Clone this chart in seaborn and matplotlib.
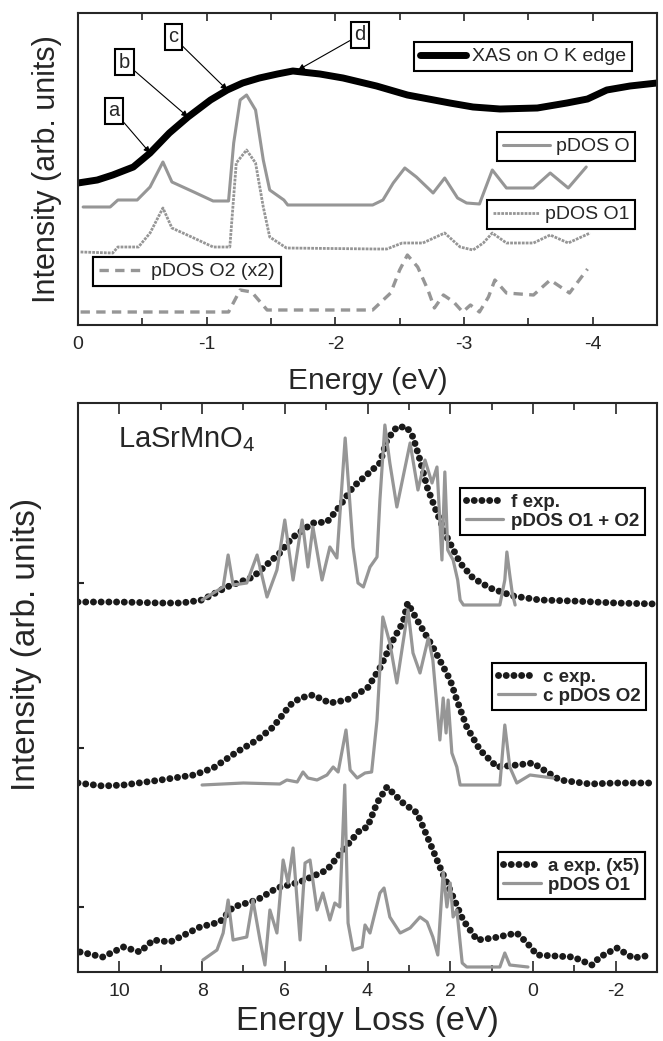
import matplotlib
matplotlib.use('Agg')
import matplotlib.pyplot as plt
import seaborn as sns
from matplotlib.ticker import MultipleLocator

# --- Styling ---
sns.set_style("ticks")
plt.rcParams['font.family'] = ['Liberation Sans', 'DejaVu Sans']
plt.rcParams['mathtext.fontset'] = 'custom'
plt.rcParams['mathtext.rm'] = 'Liberation Sans'
plt.rcParams['mathtext.it'] = 'Liberation Sans:italic'
plt.rcParams['axes.unicode_minus'] = False

GRAY = '#969696'

# ---------------- top panel: XAS + pDOS (energy in eV) ----------------
xas_e = [0, -0.15, -0.27, -0.43, -0.56, -0.71, -0.855, -1.03, -1.16, -1.28, -1.41, -1.55,
         -1.67, -1.88, -2.06, -2.32, -2.56, -2.89, -3.07, -3.28, -3.57, -3.8, -3.96, -4.11, -4.29, -4.5]
xas_i = [142, 145, 150, 158, 172, 192, 208, 225, 235, 242, 247, 251,
         254, 251, 247, 239, 230, 222, 218, 216, 217, 222, 226, 235, 239, 242]

pdos_o_e = [-0.04, -0.25, -0.31, -0.46, -0.56, -0.66, -0.73, -0.9, -1.05, -1.17, -1.21, -1.26,
            -1.31, -1.38, -1.44, -1.49, -1.6, -1.63, -2.29, -2.37, -2.45, -2.54, -2.63, -2.76,
            -2.85, -2.95, -3.02, -3.12, -3.22, -3.33, -3.54, -3.67, -3.81, -3.95]
pdos_o_i = [118, 118, 125, 125, 138, 163, 143, 133, 124, 124, 182, 225,
            230, 215, 165, 135, 125, 120, 120, 125, 142, 157, 148, 132,
            147, 127, 122, 121, 155, 137, 137, 152, 137, 158]

pdos_o1_e = [-0.02, -0.27, -0.31, -0.47, -0.56, -0.66, -0.73, -0.9, -1.05, -1.18, -1.23, -1.31,
             -1.38, -1.44, -1.49, -1.62, -2.32, -2.4, -2.52, -2.68, -2.85, -2.97, -3.07, -3.15,
             -3.22, -3.33, -3.54, -3.67, -3.81, -3.98]
pdos_o1_i = [73, 72, 78, 78, 92, 117, 97, 87, 78, 78, 162, 175,
             162, 118, 88, 77, 76, 76, 82, 82, 92, 78, 75, 82,
             92, 82, 82, 90, 82, 92]

pdos_o2_e = [-0.02, -1.17, -1.26, -1.35, -1.47, -2.29, -2.43, -2.5, -2.56, -2.64, -2.72, -2.77,
             -2.84, -2.92, -2.99, -3.05, -3.12, -3.19, -3.24, -3.33, -3.54, -3.67, -3.82, -3.96]
pdos_o2_i = [13, 13, 35, 33, 15, 15, 32, 55, 70, 58, 35, 17,
             30, 23, 13, 20, 13, 28, 45, 32, 30, 45, 32, 56]

# arrows: label, box position, arrow head (on XAS curve)
marks = ['a', 'b', 'c', 'd']
mark_box_e = [-0.28, -0.36, -0.74, -2.19]
mark_box_i = [214, 263, 288, 290]
mark_head_e = [-0.56, -0.855, -1.16, -1.71]
mark_head_i = [172, 208, 235, 255]

# ---------------- bottom panel: RIXS vs pDOS (energy loss in eV) ----------------
f_exp_e = [11, 10, 9, 8.5, 8, 7.4, 6.77, 6.12, 5.83, 5.32, 4.98, 4.74, 4.35, 3.94, 3.7, 3.53,
           3.29, 3.05, 2.9, 2.73, 2.56, 2.32, 2.08, 1.76, 1.45, 1.04, 0.48, -0.17, -0.97, -2, -3]
f_exp_i = [370, 370, 369, 369, 372, 385, 395, 419, 434, 449, 450, 462, 485, 500, 509, 532,
           545, 545, 535, 512, 485, 459, 435, 409, 394, 384, 376, 372, 371, 369, 368]

f_dos_e = [8.0, 7.49, 7.37, 7.25, 6.92, 6.67, 6.43, 6.19, 6.0, 5.8, 5.58, 5.44, 5.32, 5.1, 4.91,
           4.74, 4.54, 4.35, 4.23, 4.1, 3.94, 3.77, 3.7, 3.58, 3.46, 3.29, 2.97, 2.78, 2.61, 2.44,
           2.32, 2.2, 2.13, 2.06, 1.93, 1.82, 1.76, 1.68, 0.8, 0.68, 0.63, 0.56, 0.5, 0.43]
f_dos_i = [372, 385, 417, 387, 389, 417, 375, 402, 452, 392, 452, 405, 445, 392, 425,
           414, 534, 425, 389, 385, 405, 415, 472, 547, 509, 465, 529, 482, 512, 489,
           505, 412, 500, 422, 412, 392, 372, 367, 367, 392, 420, 397, 379, 367]

c_exp_e = [11, 10.4, 9.9, 9.0, 8.2, 7.73, 7.16, 6.67, 6.28, 5.87, 5.63, 5.32, 4.91, 4.5, 4.0,
           3.7, 3.38, 3.14, 3.03, 2.8, 2.42, 2.0, 1.84, 1.6, 1.28, 0.87, 0.39, 0.0, -0.34, -0.65,
           -1.38, -2.0, -2.83]
c_exp_i = [189, 186, 187, 192, 197, 204, 220, 232, 245, 267, 274, 277, 269, 272, 284,
           304, 332, 350, 369, 352, 325, 292, 272, 245, 222, 205, 207, 209, 200, 192,
           188, 189, 189]

c_dos_e = [8.0, 7.0, 6.12, 5.95, 5.7, 5.56, 5.44, 5.22, 4.98, 4.83, 4.71, 4.52, 4.42, 4.25,
           4.06, 3.9, 3.77, 3.63, 3.46, 3.29, 3.02, 2.9, 2.73, 2.53, 2.42, 2.25, 2.17, 2.1,
           2.05, 1.96, 1.84, 1.76, 0.8, 0.68, 0.56, 0.39, 0.07, -0.49]
c_dos_i = [187, 189, 188, 192, 190, 200, 194, 192, 197, 205, 200, 242, 202, 194,
           199, 200, 252, 355, 329, 289, 362, 319, 299, 334, 312, 232, 274, 239,
           272, 219, 205, 187, 187, 247, 205, 189, 197, 194]

a_exp_e = [10.95, 10.4, 9.9, 9.5, 9.18, 8.77, 8.05, 7.57, 7.25, 6.67, 6.19, 5.63, 4.98, 4.59,
           4.18, 4.0, 3.77, 3.53, 3.14, 2.8, 2.49, 2.25, 1.93, 1.69, 1.35, 0.96, 0.39, 0.14,
           -0.1, -0.97, -1.43, -1.62, -2.03, -2.42, -2.88]
a_exp_i = [20, 15, 25, 20, 32, 30, 45, 50, 65, 72, 84, 90, 102, 122,
           142, 145, 169, 185, 169, 159, 129, 105, 75, 52, 32, 34, 39, 29,
           17, 15, 7, 15, 24, 14, 17]

a_dos_e = [7.98, 7.64, 7.49, 7.37, 7.25, 6.92, 6.77, 6.6, 6.48, 6.36, 6.19, 6.04, 5.92, 5.8,
           5.63, 5.51, 5.39, 5.22, 5.08, 4.91, 4.79, 4.67, 4.55, 4.47, 4.35, 4.13, 4.06, 3.94,
           3.7, 3.6, 3.46, 3.21, 2.97, 2.73, 2.56, 2.42, 2.3, 2.17, 2.08, 2.0, 1.93, 1.84,
           1.71, 1.6, 0.8, 0.68, 0.56, 0.12]
a_dos_i = [12, 22, 39, 72, 32, 35, 72, 32, 7, 62, 39, 112, 89, 124,
           32, 109, 112, 62, 79, 52, 69, 65, 187, 49, 22, 25, 47, 39,
           79, 84, 55, 39, 44, 55, 50, 35, 17, 100, 65, 89, 55, 62,
           9, 5, 5, 19, 7, 5]

bottom_yticks = [65, 224, 389]

# ---------------- figure ----------------
fig = plt.figure(figsize=(6.63, 10.41), dpi=100)
W, H = 663, 1041
ax1 = fig.add_axes([78 / W, (H - 325) / H, 579 / W, 312 / H])
ax2 = fig.add_axes([78 / W, (H - 972) / H, 579 / W, 569 / H])


def draw(ax, x, y, **kw):
    sns.lineplot(x=x, y=y, ax=ax, sort=False, legend=False, **kw)
    return ax.lines[-1]


def dotted(line):
    # experimental points drawn as a row of round dots
    line.set_linestyle((0, (0.01, 1.1)))
    line.set_dash_capstyle('round')
    return line


# top panel
h_xas = draw(ax1, xas_e, xas_i, color='black', lw=5.0)
h_o = draw(ax1, pdos_o_e, pdos_o_i, color=GRAY, lw=2.2)
h_o1 = draw(ax1, pdos_o1_e, pdos_o1_i, color=GRAY, lw=2.0)
h_o1.set_linestyle((0, (1.0, 0.4)))
h_o2 = draw(ax1, pdos_o2_e, pdos_o2_i, color=GRAY, lw=2.4)
h_o2.set_linestyle((0, (2.8, 1.9)))

for m, be, bi, he, hi in zip(marks, mark_box_e, mark_box_i, mark_head_e, mark_head_i):
    ax1.annotate(m, xy=(he, hi), xytext=(be, bi), fontsize=14.5, ha='center', va='center',
                 bbox=dict(boxstyle='square,pad=0.18', fc='white', ec='black', lw=1.5),
                 arrowprops=dict(arrowstyle='-|>', color='black', lw=0.8,
                                 mutation_scale=9, shrinkA=0, shrinkB=0))

leg_kw = dict(fontsize=14, frameon=True, fancybox=False, framealpha=1, edgecolor='black',
              borderpad=0.3, handletextpad=0.3, handlelength=2.4, borderaxespad=0)
legs = [
    ([h_xas], ['XAS on O K edge'], (0.580, 0.907)),
    ([h_o], ['pDOS O'], (0.724, 0.619)),
    ([h_o1], ['pDOS O1'], (0.706, 0.401)),
    ([h_o2], ['pDOS O2 (x2)'], (0.026, 0.218)),
]
for hs, ls, pos in legs:
    lg = ax1.legend(hs, ls, loc='upper left', bbox_to_anchor=pos, **leg_kw)
    lg.get_frame().set_linewidth(1.5)
    ax1.add_artist(lg)

ax1.set_xlim(0, -4.5)
ax1.set_ylim(0, 312)
ax1.set_yticks([])
ax1.xaxis.set_major_locator(MultipleLocator(1))
ax1.xaxis.set_minor_locator(MultipleLocator(0.5))
ax1.tick_params(axis='x', which='both', direction='in', top=True, labelsize=14,
                width=1.2, pad=8)
ax1.tick_params(axis='x', which='major', length=6)
ax1.tick_params(axis='x', which='minor', length=5)
ax1.set_xlabel('Energy (eV)', fontsize=21.5)
ax1.set_ylabel('Intensity (arb. units)', fontsize=22)
ax1.xaxis.set_label_coords(0.5, -0.135)
ax1.yaxis.set_label_coords(-0.028, 0.5)

# bottom panel
h_f = dotted(draw(ax2, f_exp_e, f_exp_i, color='#1a1a1a', lw=5.0))
h_fd = draw(ax2, f_dos_e, f_dos_i, color=GRAY, lw=2.3)
h_c = dotted(draw(ax2, c_exp_e, c_exp_i, color='#1a1a1a', lw=5.0))
h_cd = draw(ax2, c_dos_e, c_dos_i, color=GRAY, lw=2.3)
h_a = dotted(draw(ax2, a_exp_e, a_exp_i, color='#1a1a1a', lw=5.0))
h_ad = draw(ax2, a_dos_e, a_dos_i, color=GRAY, lw=2.3)

leg_kw2 = dict(frameon=True, fancybox=False, framealpha=1, edgecolor='black',
               borderpad=0.3, handletextpad=0.4, handlelength=2.0, borderaxespad=0,
               labelspacing=0.1, prop={'size': 13.5, 'weight': 'bold'})
legs2 = [
    ([h_f, h_fd], ['f exp.', 'pDOS O1 + O2'], (0.660, 0.851)),
    ([h_c, h_cd], ['c exp.', 'c pDOS O2'], (0.715, 0.543)),
    ([h_a, h_ad], ['a exp. (x5)', 'pDOS O1'], (0.725, 0.211)),
]
for hs, ls, pos in legs2:
    lg = ax2.legend(hs, ls, loc='upper left', bbox_to_anchor=pos, **leg_kw2)
    lg.get_frame().set_linewidth(1.5)
    ax2.add_artist(lg)

ax2.text(0.069, 0.923, 'LaSrMnO$_4$', transform=ax2.transAxes, fontsize=21, va='baseline')

ax2.set_xlim(11, -3)
ax2.set_ylim(0, 569)
ax2.set_yticks(bottom_yticks)
ax2.set_yticklabels([])
ax2.tick_params(axis='y', direction='in', length=4, width=1.5)
ax2.xaxis.set_major_locator(MultipleLocator(2))
ax2.xaxis.set_minor_locator(MultipleLocator(1))
ax2.tick_params(axis='x', which='both', direction='in', top=True, labelsize=14,
                width=1.2, pad=8)
ax2.tick_params(axis='x', which='major', length=8)
ax2.tick_params(axis='x', which='minor', length=5)
ax2.set_xlabel('Energy Loss (eV)', fontsize=24.5)
ax2.set_ylabel('Intensity (arb. units)', fontsize=24)
ax2.xaxis.set_label_coords(0.5, -0.059)
ax2.yaxis.set_label_coords(-0.062, 0.575)

for ax in (ax1, ax2):
    for sp in ax.spines.values():
        sp.set_linewidth(1.5)
        sp.set_visible(True)

fig.savefig('out.png', dpi=100)
